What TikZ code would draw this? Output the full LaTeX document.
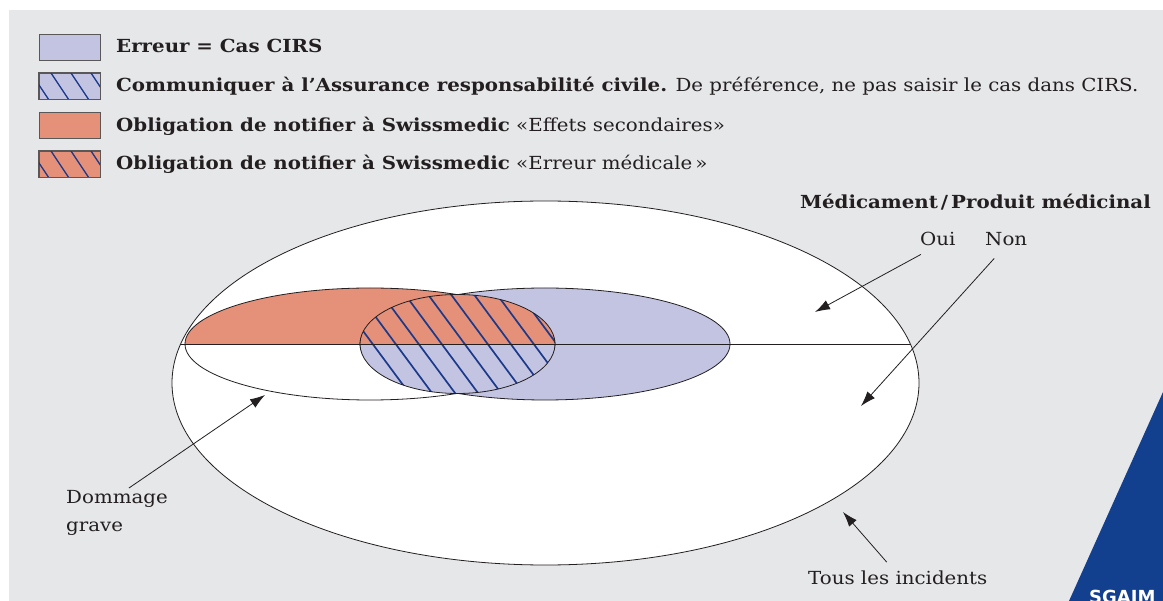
\documentclass[tikz,border=0pt]{standalone}
\usepackage{fontspec}
\setmainfont{DejaVu Serif}[FakeStretch=1.1]
\newfontfamily\logofont{DejaVu Sans}
\usetikzlibrary{arrows.meta}
\definecolor{fond}{HTML}{E6E7E9}
\definecolor{cirs}{HTML}{C3C4E1}
\definecolor{medic}{HTML}{E5917A}
\definecolor{hachure}{HTML}{1B3A8C}
\definecolor{sgaim}{HTML}{133F8F}
\definecolor{texte}{HTML}{231F20}

\begin{document}
\begin{tikzpicture}[x=1pt,y=-1pt,
    contour/.style={draw=texte,line width=0.8pt},
    hach/.style={draw=hachure,line width=1.7pt},
    etiq/.style={inner sep=0pt,text=texte,font=\fontsize{18}{28}\selectfont},
    legende/.style={etiq,anchor=base west},
    fleche/.style={draw=texte,line width=0.8pt,-{Latex[length=15pt,width=10pt]}},
    casebox/.style={draw=texte!75,line width=0.8pt,minimum width=61pt,minimum height=26pt,inner sep=0pt}]
  \useasboundingbox (0,0) rectangle (1163,601);
  \fill[white] (0,0) rectangle (1163,601);
  \fill[fond] (9,10) rectangle (1163,601);

  % legende
  \node[casebox,fill=cirs] (c1) at (69.5,47) {};
  \node[casebox,fill=cirs] (c2) at (69.5,86) {};
  \node[casebox,fill=medic] (c3) at (69.5,125.5) {};
  \node[casebox,fill=medic] (c4) at (69.5,164) {};
  \foreach \c/\y in {c2/73,c4/151} {
    \begin{scope}
      \clip (\c.south west) rectangle (\c.north east);
      \foreach \x in {11,31,...,111}
        \draw[hach,line width=1.3pt] (\x,\y) -- ++(20,30);
    \end{scope}
    \draw[casebox] (\c.south west) rectangle (\c.north east);
  }
  \node[legende] (l1) at (116,53) {\textbf{Erreur = Cas CIRS}};
  \node[legende] (l2) at (116,92) {\textbf{Communiquer à l’Assurance responsabilité civile.} De préférence, ne pas saisir le cas dans CIRS.};
  \node[legende] (l3) at (116,131.5) {\textbf{Obligation de notifier à Swissmedic} «Effets secondaires»};
  \node[legende] (l4) at (116,170) {\textbf{Obligation de notifier à Swissmedic} «Erreur médicale\,»};

  % ensembles
  \path[fill=white,contour] (545.5,383) ellipse [x radius=373.5pt,y radius=182pt];
  \fill[cirs] (545,344) ellipse [x radius=185pt,y radius=56pt];
  \begin{scope}
    \clip (150,250) rectangle (950,344);
    \fill[medic] (370,344) ellipse [x radius=185pt,y radius=56pt];
  \end{scope}
  \draw[contour] (370,344) ellipse [x radius=185pt,y radius=56pt];
  \draw[contour] (545,344) ellipse [x radius=185pt,y radius=56pt];
  % zone commune
  \fill[cirs] (457.5,344) ellipse [x radius=97.5pt,y radius=49.5pt];
  \begin{scope}
    \clip (300,250) rectangle (600,344);
    \fill[medic] (457.5,344) ellipse [x radius=97.5pt,y radius=49.5pt];
  \end{scope}
  \begin{scope}
    \clip (457.5,344) ellipse [x radius=97.5pt,y radius=49.5pt];
    \foreach \x in {260,283,...,580}
      \draw[hach] (\x,285) -- ++(90,121.5);
  \end{scope}
  \draw[contour] (457.5,344) ellipse [x radius=97.5pt,y radius=49.5pt];
  \begin{scope}
    \clip (545.5,383) ellipse [x radius=373.5pt,y radius=182pt];
    \draw[contour] (100,344) -- (1000,344);
  \end{scope}

  % etiquettes et fleches
  \node[etiq,anchor=base east] (medicament) at (1151,209) {\textbf{Médicament\,/\,Produit médicinal}};
  \node[etiq,anchor=base west] (oui) at (920,246) {Oui};
  \node[etiq,anchor=base west] (non) at (985,246) {Non};
  \node[etiq,anchor=north west,align=left] (dommage) at (66,490) {Dommage\\grave};
  \node[etiq,anchor=base west] (tous) at (808,584) {Tous les incidents};
  \coordinate (pOui) at (815,312);
  \coordinate (pNon) at (861,406);
  \coordinate (pDommage) at (265,395);
  \coordinate (pTous) at (843,512);
  \draw[fleche] ([xshift=-17pt,yshift=-8pt]oui.south) -- (pOui);
  \draw[fleche] ([xshift=-12pt,yshift=-12pt]non.south) -- (pNon);
  \draw[fleche] ([xshift=12pt,yshift=2pt]dommage.north) -- (pDommage);
  \draw[fleche] ([xshift=-11pt,yshift=8pt]tous.north) -- (pTous);

  % logo
  \begin{scope}
    \clip (0,0) rectangle (1163,601);
    \fill[sgaim] (1163,392) -- (1163,601) -- (1069,601) -- cycle;
    \node[anchor=base west,inner sep=0pt,text=white,font=\logofont\bfseries\fontsize{18}{20}\selectfont] (logo) at (1089,604) {SGAIM};
  \end{scope}
\end{tikzpicture}
\end{document}
